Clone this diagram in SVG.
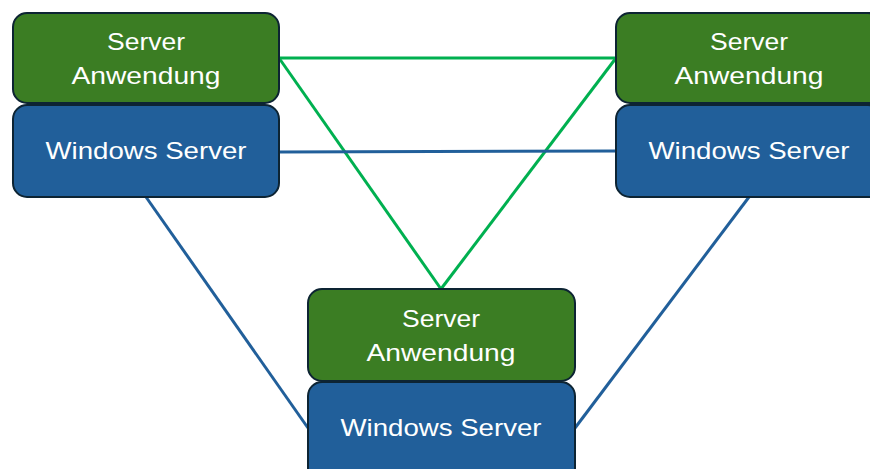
<svg xmlns="http://www.w3.org/2000/svg" width="870" height="469" viewBox="0 0 870 469">
<style>
.app{fill:#3b7d23;stroke:#0d2433;stroke-width:2}
.os{fill:#215f9a;stroke:#0d2433;stroke-width:2}
.t{fill:#fff;font-family:"Liberation Sans",Arial,sans-serif;font-size:24px;text-anchor:middle}
.g{stroke:#00b050;stroke-width:3;fill:none}
.b{stroke:#215f9a;stroke-width:3;fill:none}
</style>
<rect width="870" height="469" fill="#fff"/>
<g id="connectors">
<line class="g" x1="279" y1="58" x2="616" y2="58"/>
<line class="g" x1="279" y1="58" x2="441" y2="289"/>
<line class="g" x1="616" y1="58" x2="441" y2="289"/>
<line class="b" x1="279" y1="152" x2="616" y2="151"/>
<line class="b" x1="146" y1="197" x2="308" y2="428"/>
<line class="b" x1="749" y1="197" x2="575" y2="428"/>
</g>
<g id="node-left">
<rect class="app" x="13" y="13" width="266" height="90" rx="14"/>
<rect class="os" x="13" y="105" width="266" height="92" rx="14"/>
<text class="t" x="146" y="50" textLength="78" lengthAdjust="spacingAndGlyphs">Server</text>
<text class="t" x="146" y="84" textLength="149" lengthAdjust="spacingAndGlyphs">Anwendung</text>
<text class="t" x="146" y="159" textLength="201" lengthAdjust="spacingAndGlyphs">Windows Server</text>
</g>
<g id="node-right">
<rect class="app" x="616" y="13" width="266" height="90" rx="14"/>
<rect class="os" x="616" y="105" width="266" height="92" rx="14"/>
<text class="t" x="749" y="50" textLength="78" lengthAdjust="spacingAndGlyphs">Server</text>
<text class="t" x="749" y="84" textLength="149" lengthAdjust="spacingAndGlyphs">Anwendung</text>
<text class="t" x="749" y="159" textLength="201" lengthAdjust="spacingAndGlyphs">Windows Server</text>
</g>
<g id="node-bottom">
<rect class="app" x="308" y="289" width="267" height="92" rx="14"/>
<rect class="os" x="308" y="382" width="267" height="100" rx="14"/>
<text class="t" x="441" y="327" textLength="78" lengthAdjust="spacingAndGlyphs">Server</text>
<text class="t" x="441" y="361" textLength="149" lengthAdjust="spacingAndGlyphs">Anwendung</text>
<text class="t" x="441" y="436" textLength="201" lengthAdjust="spacingAndGlyphs">Windows Server</text>
</g>
</svg>
